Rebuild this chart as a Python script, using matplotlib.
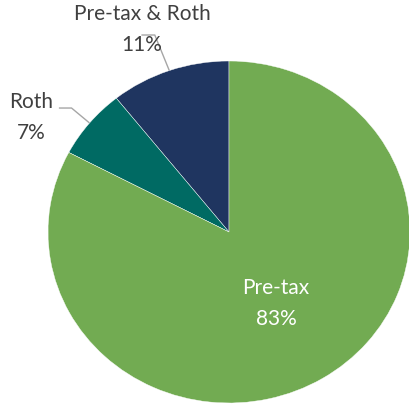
import numpy as np
import matplotlib.pyplot as plt

# data
labels = ['Pre-tax & Roth', 'Roth', 'Pre-tax']
values = [10.7, 6.6, 82.7]
pct_text = ['11%', '7%', '83%']
colors = ['#1f3560', '#006a63', '#72ab52']

plt.rcParams['font.family'] = ['Lato', 'DejaVu Sans']

fig = plt.figure(figsize=(4.09, 4.04), dpi=100)
# pie is slightly stretched horizontally in the reference
ax = fig.add_axes([48 / 409, 1 / 404, 362 / 409, 342 / 404])
wedges, _ = ax.pie(values, colors=colors, startangle=90, counterclock=True,
                   radius=1, center=(0, 0), frame=False,
                   wedgeprops=dict(edgecolor='white', linewidth=0.3))
ax.set_aspect('auto')
ax.set_xlim(-1, 1)
ax.set_ylim(-1, 1)
ax.axis('off')

# label placement (text pos, elbow start, elbow end)
lab_pos = [(-0.48, 1.185), (-1.095, 0.67), (0.26, -0.42)]
elbows = [((-0.48, 1.152), (-0.41, 1.152)), ((-0.936, 0.725), (-0.87, 0.725)), None]
txt_col = ['#404040', '#404040', 'white']

for i, w in enumerate(wedges):
    ang = np.deg2rad((w.theta1 + w.theta2) / 2)
    tx, ty = lab_pos[i]
    ax.text(tx, ty, labels[i] + '\n' + pct_text[i], ha='center', va='center',
            fontsize=15, color=txt_col[i], linespacing=1.7, clip_on=False)
    if elbows[i] is not None:
        (x0, y0), (x1, y1) = elbows[i]
        ax.plot([x0, x1, np.cos(ang)], [y0, y1, np.sin(ang)], color='#a6a6a6',
                lw=1, clip_on=False, zorder=0.5)

fig.savefig('out.png', dpi=100)
